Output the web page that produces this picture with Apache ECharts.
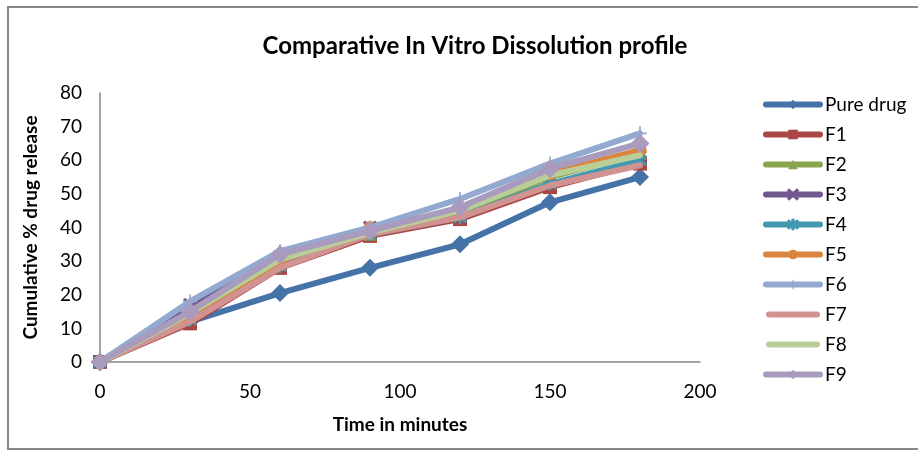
<!DOCTYPE html>
<html>
<head>
<meta charset="utf-8">
<script src="https://cdn.jsdelivr.net/npm/echarts@6/dist/echarts.min.js"></script>
<style>
  html, body { margin: 0; padding: 0; background: #fff; }
  #chart { width: 918px; height: 450px; }
</style>
</head>
<body>
<div id="chart"></div>
<script>
// sampling times (minutes)
const times = [0, 30, 60, 90, 120, 150, 180];

// cumulative % drug release
const pureDrug = [0, 12, 20.5, 28, 35, 47.5, 55];
const f1 = [0, 11.5, 28, 37.5, 42.5, 52, 59];
const f2 = [0, 13.5, 29, 38, 44, 55, 62];
const f3 = [0, 17, 31, 40, 45, 57, 61];
const f4 = [0, 12.5, 28.5, 38, 43, 53, 60];
const f5 = [0, 14, 30, 40, 45, 56, 63];
const f6 = [0, 18, 33, 40, 48.5, 59, 68];
const f7 = [0, 12, 28, 38, 43, 52.5, 58.5];
const f8 = [0, 14.5, 30.5, 38.5, 45, 55.5, 61.5];
const f9 = [0, 15, 32, 39, 46, 57.5, 65];

const seriesNames = ["Pure drug", "F1", "F2", "F3", "F4", "F5", "F6", "F7", "F8", "F9"];
const seriesData = [pureDrug, f1, f2, f3, f4, f5, f6, f7, f8, f9];

const colors = ["#4572A7", "#AA4643", "#89A54E", "#71588F", "#4198AF",
                "#DB843D", "#93A9CF", "#D19392", "#B9CD96", "#A99BBD"];

// Excel-ish marker shapes
const markers = [
  { symbol: "diamond", size: 18 },
  { symbol: "rect", size: 14 },
  { symbol: "triangle", size: 13 },
  { symbol: "path://M1,0 L5,4 L9,0 L10,1 L6,5 L10,9 L9,10 L5,6 L1,10 L0,9 L4,5 L0,1 Z", size: 12 },
  { symbol: "path://M4.5,0 H5.5 V4 L8.5,1 L9.2,1.7 L6,5 L9.2,8.3 L8.5,9 L5.5,6 V10 H4.5 V6 L1.5,9 L0.8,8.3 L4,5 L0.8,1.7 L1.5,1 L4.5,4 Z", size: 12 },
  { symbol: "circle", size: 13 },
  { symbol: "path://M4.4,0 H5.6 V4.4 H10 V5.6 H5.6 V10 H4.4 V5.6 H0 V4.4 H4.4 Z", size: 14 },
  { symbol: "none", size: 0 },
  { symbol: "none", size: 0 },
  { symbol: "diamond", size: 19 }
];

// plain rounded bar for legend entries without a marker
const barIcon = "path://M3,0 H51 A3,3 0 0 1 51,6 H3 A3,3 0 0 1 3,0 Z";

const chart = echarts.init(document.getElementById("chart"), null, { renderer: "canvas" });
const font = "Lato, 'Open Sans', sans-serif";

const option = {
  animation: false,
  color: colors,
  textStyle: { fontFamily: font },
  title: {
    text: "Comparative In Vitro Dissolution profile",
    left: 470,
    top: 29,
    textAlign: "center",
    textStyle: { fontSize: 24, fontWeight: "bold", color: "#000", fontFamily: font }
  },
  graphic: [{
    type: "rect",
    shape: { x: 8, y: 7, width: 920, height: 442 },
    style: { fill: "none", stroke: "#878787", lineWidth: 2 },
    silent: true
  }],
  legend: {
    orient: "vertical",
    left: 758,
    top: 90,
    itemGap: 11,
    itemWidth: 54,
    itemHeight: 12,
    lineStyle: { width: 6 },
    textStyle: { fontSize: 19, color: "#000", fontFamily: font, padding: [0, 0, 0, 0] },
    data: seriesNames.map((n, i) => markers[i].symbol === "none" ? { name: n, icon: barIcon } : n)
  },
  grid: { left: 100, right: 218, top: 93, bottom: 88 },
  xAxis: {
    type: "value",
    min: 0,
    max: 200,
    interval: 50,
    name: "Time in minutes",
    nameLocation: "middle",
    nameGap: 53,
    nameTextStyle: { fontSize: 19, fontWeight: "bold", color: "#000", fontFamily: font },
    axisLine: { lineStyle: { color: "#868686", width: 1.5 } },
    axisTick: { show: false },
    axisLabel: { fontSize: 19, color: "#000", margin: 20, fontFamily: font },
    splitLine: { show: false }
  },
  yAxis: {
    type: "value",
    min: 0,
    max: 80,
    interval: 10,
    name: "Cumulative % drug release",
    nameLocation: "middle",
    nameGap: 60,
    nameRotate: 90,
    nameTextStyle: { fontSize: 19, fontWeight: "bold", color: "#000", fontFamily: font },
    axisLine: { show: true, lineStyle: { color: "#868686", width: 1.5 } },
    axisTick: { show: false },
    axisLabel: { fontSize: 19, color: "#000", margin: 18, fontFamily: font },
    splitLine: { show: false }
  },
  series: seriesData.map((vals, i) => ({
    name: seriesNames[i],
    type: "line",
    data: times.map((t, j) => [t, vals[j]]),
    symbol: markers[i].symbol,
    symbolSize: markers[i].size,
    showAllSymbol: true,
    lineStyle: { width: 6, color: colors[i], cap: "round", join: "round" },
    itemStyle: { color: colors[i], borderColor: colors[i], borderWidth: i === 3 || i === 4 ? 1.5 : 0 },
    z: 2 + i
  }))
};

chart.setOption(option);
</script>
</body>
</html>
